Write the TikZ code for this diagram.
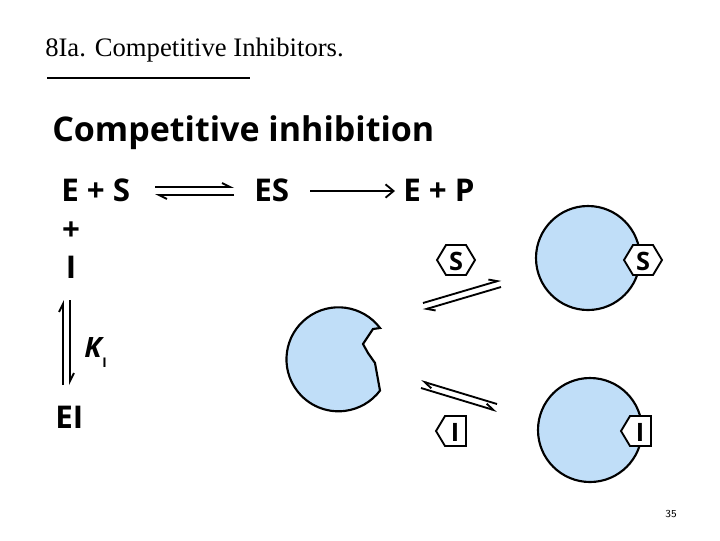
\documentclass[tikz,border=0pt]{standalone}
\usepackage{fontspec}
\setmainfont{Liberation Serif}
\newfontfamily\bsf{Open Sans}
\usetikzlibrary{arrows.meta}
\definecolor{enzc}{RGB}{192,222,248}
\tikzset{
 x=0.75pt,y=-0.75pt,
 bt/.style={font=\bsf\bfseries\fontsize{23.5}{24}\selectfont,inner sep=0pt,anchor=base},
 enz/.style={draw=black,line width=1.6pt,fill=enzc},
 tag/.style={draw=black,line width=1.4pt,fill=white},
 eq/.style={line width=1.4pt,-{Straight Barb[left,length=6pt,width=6pt]}},
 tagtxt/.style={font=\bsf\bfseries\fontsize{19}{20}\selectfont,inner sep=0pt},
}
\begin{document}
\begin{tikzpicture}
\useasboundingbox (0,0) rectangle (720,540);
\node[font=\fontsize{20}{22}\selectfont,anchor=base west,inner sep=0pt] (title) at (45,56) {8Ia. Competitive Inhibitors.};
\draw[line width=2.2pt] (47,78) coordinate (ul1) -- (250,78) coordinate (ul2);
\node[bt,anchor=base west,font=\bsf\bfseries\fontsize{25.5}{26}\selectfont] (head) at (52,141) {Competitive inhibition};
\node[bt,anchor=base west] (es) at (61,201) {E + S};
\node[bt,anchor=base west] (ES) at (254,201) {ES};
\node[bt,anchor=base west] (ep) at (403,201) {E + P};
\coordinate (a1) at (155,187); \coordinate (a2) at (234,187);
\coordinate (b1) at (155,195); \coordinate (b2) at (234,195);
\draw[eq] (a1) -- (a2); \draw[eq] (b2) -- (b1);
\coordinate (c1) at (310,191); \coordinate (c2) at (395,191);
\draw[line width=1.4pt,-{Straight Barb[length=6pt,width=10pt]}] (c1) -- (c2);
\node[bt] (plus) at (71,240) {+};
\node[bt] (I) at (71,278) {I};
\coordinate (v1) at (63,385); \coordinate (v2) at (63,300);
\coordinate (w1) at (70,300); \coordinate (w2) at (70,385);
\draw[eq] (v1) -- (v2); \draw[eq] (w1) -- (w2);
\node[font=\bsf\bfseries\itshape\fontsize{21}{22}\selectfont,inner sep=0pt,anchor=base west] (K) at (84,357) {K};
\node[font=\bsf\bfseries\fontsize{10}{12}\selectfont,inner sep=0pt,anchor=base west] (Ksub) at (102,367) {I};
\node[bt,anchor=base west] (EI) at (55,428) {EI};
% free enzyme
\draw[enz] (380,328) arc[start angle=-37,end angle=-323,radius=52] -- (375,363) -- (368,353) -- (363,344) -- (373,329) -- cycle;
% equilibrium arrows
\coordinate (s1) at (423,303); \coordinate (s2) at (501,280);
\coordinate (s3) at (423,310); \coordinate (s4) at (501,287);
\draw[eq] (s1) -- (s2);
\draw[eq] (s4) -- (s3);
\coordinate (t1) at (421,381); \coordinate (t2) at (497,404);
\coordinate (t3) at (421,388); \coordinate (t4) at (497,411);
\draw[eq] (t3) -- (t4);
\draw[eq] (t2) -- (t1);
% complexes
\draw[enz] (588,258) circle[radius=52];
\draw[enz] (590,430) circle[radius=52];
\foreach \n/\x/\y in {sf/456/260,sb/643/260}{
 \draw[tag] (\x-19,\y) -- (\x-10,\y-15) -- (\x+10,\y-15) -- (\x+19,\y) -- (\x+10,\y+15) -- (\x-10,\y+15) -- cycle;
 \node[tagtxt] (\n) at (\x,\y+1) {S};
}
\foreach \n/\x/\y in {if/453/431,ib/638/431}{
 \draw[tag] (\x-17,\y) -- (\x-8,\y-15) -- (\x+13,\y-15) -- (\x+13,\y+15) -- (\x-8,\y+15) -- cycle;
 \node[tagtxt] (\n) at (\x+2,\y+1) {I};
}
\node[font=\fontsize{8}{9}\selectfont\sffamily,inner sep=0pt] (pg) at (671,514) {35};
\end{tikzpicture}
\end{document}
